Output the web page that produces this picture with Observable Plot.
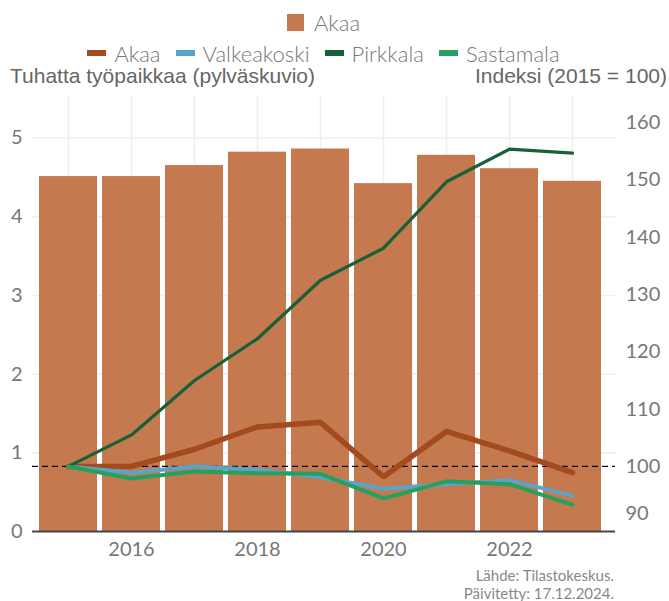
<!DOCTYPE html>
<html><head><meta charset="utf-8">
<script src="https://cdn.jsdelivr.net/npm/d3@7"></script>
<script src="https://cdn.jsdelivr.net/npm/@observablehq/plot@0.6"></script>
<style>
body{margin:0;background:#fff;font-family:Lato,"Open Sans",sans-serif;}
#wrap{position:relative;width:669px;height:601px;overflow:hidden;}
.leg{position:absolute;left:32px;width:583px;display:flex;justify-content:center;align-items:center;font-size:22px;font-weight:300;color:#777;white-space:nowrap;}
.leg .item{display:flex;align-items:center;margin:0 7.5px;}
.sq{width:17px;height:17px;margin-right:10px;}
.ln{width:19px;height:6px;margin-right:8px;}
.ttl{position:absolute;font-family:"Liberation Sans",sans-serif;font-size:21px;color:#666;white-space:nowrap;}
#chart{position:absolute;left:0;top:62px;}
#src{position:absolute;right:55px;top:566px;text-align:right;font-size:15px;line-height:18px;color:#888;}
</style></head><body>
<div id="wrap">
  <div class="leg" id="leg1" style="top:9px;height:26px;"></div>
  <div class="leg" id="leg2" style="top:40px;height:26px;"></div>
  <div class="ttl" style="left:10px;top:64px;">Tuhatta työpaikkaa (pylväskuvio)</div>
  <div class="ttl" style="right:2px;top:64px;">Indeksi (2015 = 100)</div>
  <div id="chart"></div>
  <div id="src"></div>
</div>
<script>
// ---- data ----
const years = [2015, 2016, 2017, 2018, 2019, 2020, 2021, 2022, 2023];
const barSeries = "Akaa";
const akaaJobs = [4.51, 4.51, 4.65, 4.82, 4.86, 4.42, 4.78, 4.61, 4.45]; // thousand jobs
const seriesNames = ["Akaa", "Valkeakoski", "Pirkkala", "Sastamala"];
const akaaIdx = [100, 100.0, 103.0, 106.9, 107.7, 98.2, 106.1, 102.7, 98.9];
const valkeakoskiIdx = [100, 98.9, 100.0, 99.4, 98.1, 96.1, 96.9, 97.6, 94.9];
const pirkkalaIdx = [100, 105.5, 115.0, 122.3, 132.5, 138.1, 149.7, 155.4, 154.7];
const sastamalaIdx = [100, 97.9, 99.1, 98.8, 98.7, 94.4, 97.4, 96.9, 93.3];
const leftTicks = [0, 1, 2, 3, 4, 5];
const rightTicks = [90, 100, 110, 120, 130, 140, 150, 160];
const xTicks = [2016, 2018, 2020, 2022];
const baseIndex = 100;
const sourceLines = ["Lähde: Tilastokeskus.", "Päivitetty: 17.12.2024."];

// ---- styles ----
const barColor = "#C5794E";
const lineColors = ["#A34A1F", "#5BA3C8", "#17603A", "#25A05E"];
const lineWidths = [5.5, 4, 3.2, 4];

// ---- legends ----
document.getElementById("leg1").innerHTML =
  `<span class="item"><span class="sq" style="background:${barColor}"></span>${barSeries}</span>`;
document.getElementById("leg2").innerHTML = seriesNames.map((n, i) =>
  `<span class="item"><span class="ln" style="background:${lineColors[i]}"></span>${n}</span>`).join("");

// ---- tables ----
const bars = years.map((y, i) => ({year: y, value: akaaJobs[i]}));
const idxArrays = [akaaIdx, valkeakoskiIdx, pirkkalaIdx, sastamalaIdx];
const lines = seriesNames.flatMap((s, j) => years.map((y, i) => ({series: s, year: y, value: idxArrays[j][i]})));

// right axis (index) mapped onto left axis units
const k = 0.07277, c0 = 0.827;
const toLeft = v => c0 + (v - baseIndex) * k;
const fromLeft = v => String(Math.round((v - c0) / k + baseIndex));

const chart = Plot.plot({
  width: 669,
  height: 503,
  marginTop: 33,
  marginBottom: 34,
  marginLeft: 32,
  marginRight: 54,
  style: {fontFamily: "Lato, sans-serif", fontSize: "20px", color: "#777", background: "transparent", overflow: "visible"},
  x: {type: "band", domain: years, paddingInner: 0.084, paddingOuter: 0.124, align: 0.32, axis: null},
  y: {domain: [0, 5.54], axis: null},
  marks: [
    Plot.ruleY(leftTicks.filter(d => d > 0), {stroke: "#eeeeee", strokeWidth: 1.5}),
    Plot.tickX(years, {x: d => d, stroke: "#eeeeee", strokeWidth: 1.5}),
    Plot.barY(bars, {x: "year", y: "value", fill: barColor}),
    Plot.ruleY([0], {stroke: "#444", strokeWidth: 2}),
    Plot.ruleY([toLeft(baseIndex)], {stroke: "#000", strokeWidth: 1.3, strokeDasharray: "6,4"}),
    ...seriesNames.map((s, j) =>
      Plot.line(lines.filter(d => d.series === s), {x: "year", y: d => toLeft(d.value), stroke: lineColors[j], strokeWidth: lineWidths[j], strokeLinejoin: "miter"})),
    Plot.axisY(leftTicks, {anchor: "left", tickSize: 0, tickPadding: 10, label: null, fill: "#777", tickFormat: d => String(d)}),
    Plot.axisY(rightTicks.filter(d => d > 90).map(toLeft), {anchor: "right", tickSize: 0, tickPadding: 10, label: null, fill: "#777", tickFormat: fromLeft}),
    Plot.axisY(rightTicks.filter(d => d === 90).map(toLeft), {anchor: "right", tickSize: 0, tickPadding: 10, dy: -10, label: null, fill: "#777", tickFormat: fromLeft}),
    Plot.axisX(xTicks, {anchor: "bottom", tickSize: 0, tickPadding: 10, label: null, fill: "#777", tickFormat: d => String(d)})
  ]
});
document.getElementById("chart").appendChild(chart);
document.getElementById("src").innerHTML = sourceLines.join("<br>");
</script>
</body></html>
